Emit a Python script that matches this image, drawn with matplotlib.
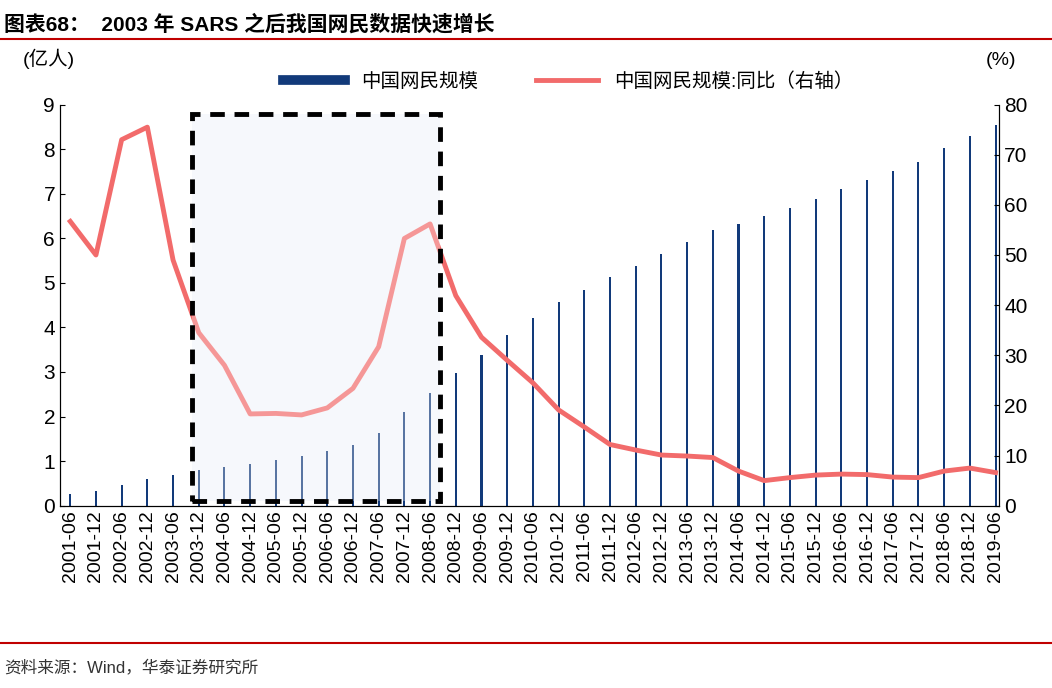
import matplotlib
matplotlib.use("Agg")
import matplotlib.pyplot as plt
from matplotlib.patches import Rectangle
from matplotlib.lines import Line2D

plt.rcParams["font.family"] = ["Liberation Sans", "Noto Sans CJK SC"]

dates = [f"{y}-{m}" for y in range(2001, 2020) for m in ("06", "12")][:37]
users = [0.26, 0.34, 0.46, 0.59, 0.68, 0.80, 0.87, 0.94, 1.03, 1.11, 1.23, 1.37,
         1.62, 2.10, 2.53, 2.98, 3.38, 3.84, 4.20, 4.57, 4.85, 5.13, 5.38, 5.64,
         5.91, 6.18, 6.32, 6.49, 6.68, 6.88, 7.10, 7.31, 7.51, 7.72, 8.02, 8.29, 8.54]
yoy = [56.7, 50.0, 73.0, 75.5, 49.0, 34.5, 28.0, 18.3, 18.4, 18.1, 19.5, 23.4,
       31.7, 53.3, 56.2, 41.9, 33.6, 29.0, 24.5, 19.1, 15.7, 12.2, 11.1, 10.1,
       9.9, 9.6, 6.9, 5.0, 5.6, 6.1, 6.3, 6.2, 5.7, 5.6, 6.9, 7.5, 6.6]

fig = plt.figure(figsize=(10.52, 6.88), dpi=100)
ax = fig.add_axes([0.057, 0.265, 0.893, 0.583])
x = list(range(len(dates)))
ax.bar(x, users, width=0.08, color="#123a7a", zorder=2)
ax.set_ylim(0, 9)
ax.set_xlim(-0.4, 36.15)
ax.set_yticks(range(10))
ax.set_xticks(x)
ax.set_xticklabels(dates, rotation=90, fontsize=14)
ax.tick_params(axis="y", labelsize=15, direction="in")
ax.tick_params(axis="x", direction="in", length=0)
ax.spines["top"].set_visible(False)

ax2 = ax.twinx()
ax2.plot(x, yoy, color="#f26b6b", lw=3.5, zorder=3)
ax2.set_ylim(0, 80)
ax2.set_yticks(range(0, 81, 10))
ax2.tick_params(axis="y", labelsize=15, direction="in")
ax2.spines["top"].set_visible(False)

ax.add_patch(Rectangle((4.73, 0.1), 9.67, 8.68, facecolor="#dfe8f5", alpha=0.35,
                       edgecolor="none", zorder=1))
ax2.add_patch(Rectangle((4.73, 0.1 / 9 * 80), 9.67, 8.68 / 9 * 80, fill=False,
                        edgecolor="black", lw=3.5, ls=(0, (3, 2)), zorder=6))
ax2.add_patch(Rectangle((4.73, 0.1 / 9 * 80), 9.67, 8.68 / 9 * 80, facecolor="white",
                        alpha=0.3, edgecolor="none", zorder=4))

handles = [Line2D([], [], color="#123a7a", lw=7), Line2D([], [], color="#f26b6b", lw=3.5)]
fig.legend(handles, ["中国网民规模", "中国网民规模:同比（右轴）"], loc="center",
           bbox_to_anchor=(0.54, 0.882), ncol=2, frameon=False, fontsize=14,
           handlelength=3.2, columnspacing=3)
fig.text(0.022, 0.905, "(亿人)", fontsize=14)
fig.text(0.937, 0.905, "(%)", fontsize=14)

fig.text(0.004, 0.965, "图表68：  2003 年 SARS 之后我国网民数据快速增长", fontsize=15,
         fontweight="bold", va="center")
fig.add_artist(Line2D([0, 1], [0.943, 0.943], color="#c00000", lw=1.5))
fig.add_artist(Line2D([0, 1], [0.066, 0.066], color="#c00000", lw=1.5))
fig.text(0.004, 0.03, "资料来源：Wind，华泰证券研究所", fontsize=12, color="#333333",
         va="center")

fig.savefig("out.png", dpi=100)
